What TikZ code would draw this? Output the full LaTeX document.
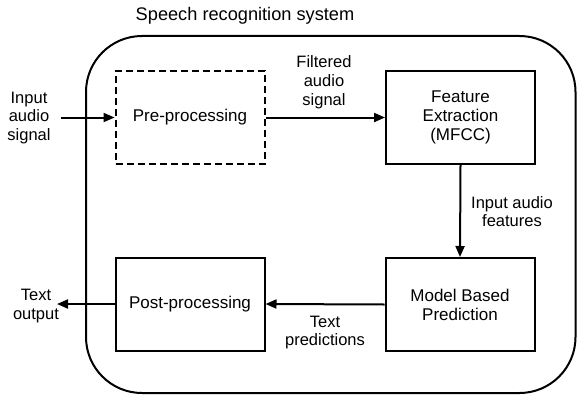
\documentclass[tikz,border=0pt]{standalone}
\usepackage{fontspec}
\setmainfont{Liberation Sans}
\usetikzlibrary{arrows.meta}
\begin{document}
\begin{tikzpicture}[x=1pt,y=-1pt,
  blk/.style={draw,line width=2pt,minimum width=149pt,minimum height=93pt,inner sep=0pt,font=\fontsize{17}{19}\selectfont,align=center},
  lbl/.style={font=\fontsize{16.5}{18.8}\selectfont,align=center,inner sep=0pt},
  conn/.style={line width=2pt,-{Triangle[length=11pt,width=9pt]}}]
\useasboundingbox (0,0) rectangle (577,396);
\draw[line width=2pt,rounded corners=56pt] (86,36) rectangle (575.5,393);
\node[font=\fontsize{18.2}{20}\selectfont,inner sep=0pt] (title) at (245,16) {Speech recognition system};
\node[blk,dashed,dash pattern=on 7pt off 4pt] (pre) at (190,117.5) {Pre-processing};
\node[blk] (feat) at (460.5,117.5) {Feature\\Extraction\\(MFCC)};
\node[blk] (model) at (460,304.5) {Model Based\\Prediction};
\node[blk] (post) at (190,304) {Post-processing};
\node[lbl] (inlbl) at (29,118) {Input\\audio\\signal};
\coordinate (inpt) at (61,117.5);
\node[lbl] (filt) at (324,82) {Filtered\\audio\\signal};
\node[lbl] (feats) at (512,211.5) {Input audio\\features};
\node[lbl] (preds) at (325,332.5) {Text\\predictions};
\node[lbl] (outlbl) at (36,306) {Text\\output};
\coordinate (outpt) at (57,304);
\draw[conn] (inpt) -- (pre.west);
\draw[conn] (pre.east) -- (feat.west);
\draw[conn] (feat.south) -- (model.north);
\draw[conn] (model.west) -- (post.east);
\draw[conn] (post.west) -- (outpt);
\end{tikzpicture}
\end{document}
